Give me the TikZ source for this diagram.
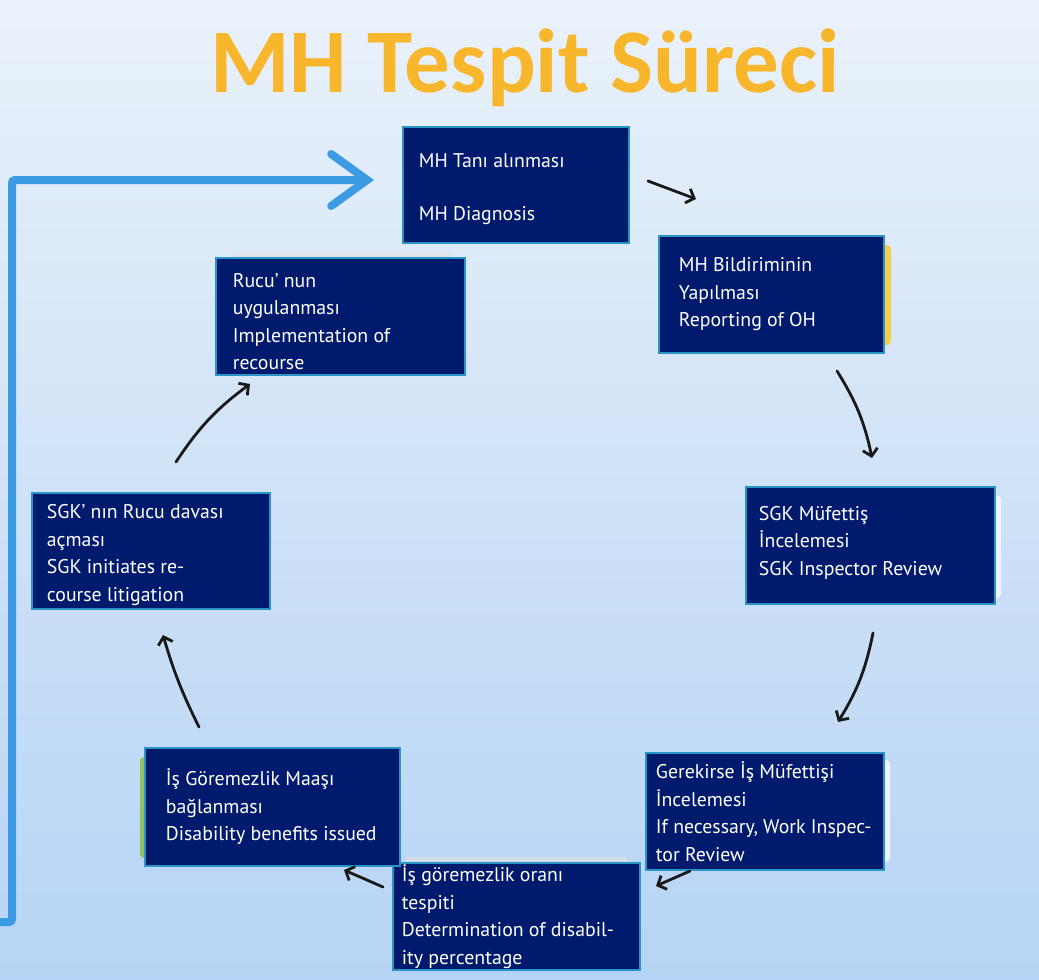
\documentclass[tikz,border=0pt]{standalone}
\usepackage{fontspec}
\setmainfont{PT Sans}
\newfontfamily\titlefont{Carlito}
\usetikzlibrary{arrows.meta,calc}
\definecolor{navy}{HTML}{001A6E}
\definecolor{edge}{HTML}{2A95C4}
\definecolor{bgtop}{HTML}{EAF2FB}
\definecolor{bgmid}{HTML}{CFE2F7}
\definecolor{bgbot}{HTML}{B6D4F5}
\definecolor{loopblue}{HTML}{3D9BE3}
\definecolor{titleor}{HTML}{F8B62C}
\definecolor{glowyel}{HTML}{F3CF4C}
\definecolor{glowgrn}{HTML}{8DC363}
\definecolor{glowpale}{HTML}{EEF4FA}
\begin{document}
\begin{tikzpicture}[x=1pt,y=-1pt,
  stepbox/.style={draw=edge,line width=2.6pt,fill=navy,inner sep=0pt},
  boxtext/.style={anchor=west,align=left,text=white,inner sep=0pt,
    font=\fontsize{19.8}{27.5}\selectfont},
  arr/.style={line width=2.8pt,draw=black!90,line cap=round,
    -{Straight Barb[length=7pt,width=15pt]}},
  loop/.style={line width=8pt,draw=loopblue,rounded corners=3pt,line cap=round,
    -{Straight Barb[length=36pt,width=52pt,line cap=round]}}]
% background
\shade[top color=bgtop,bottom color=bgbot,middle color=bgmid] (0,0) rectangle (1039,980);
\useasboundingbox (0,0) rectangle (1039,980);
% title
\node (title) at (525,68) {\titlefont\bfseries\fontsize{91}{93}\selectfont
  \color{titleor}MH Tespit Süreci};
% glows
\fill[glowyel,rounded corners=4pt] (878,245) rectangle (891,345);
\fill[glowpale,rounded corners=4pt] (988,495) rectangle (1001,598);
\fill[glowpale,rounded corners=4pt] (878,760) rectangle (890,862);
\fill[glowgrn,rounded corners=4pt] (140,757) rectangle (152,858);
\fill[black!12,opacity=0.6,rounded corners=4pt] (232,252) rectangle (452,264);
\fill[black!10,opacity=0.6,rounded corners=4pt] (405,857) rectangle (628,868);
% boxes
\node[stepbox,minimum width=226,minimum height=116] (b1) at (516,185) {};
\node[stepbox,minimum width=225,minimum height=117] (b2) at (771.5,294.5) {};
\node[stepbox,minimum width=249,minimum height=117] (b3) at (870.5,545.5) {};
\node[stepbox,minimum width=238,minimum height=117] (b4) at (765,811.5) {};
\node[stepbox,minimum width=247,minimum height=107] (b5) at (516.5,916.5) {};
\node[stepbox,minimum width=255,minimum height=118] (b6) at (272.5,807) {};
\node[stepbox,minimum width=238,minimum height=116] (b7) at (151,551) {};
\node[stepbox,minimum width=249,minimum height=117] (b8) at (340.5,316.5) {};
% texts
\node[boxtext] (t1) at ([xshift=17pt,yshift=-4pt]b1.west) {MH Tanı alınması\\[25.5pt]MH Diagnosis};
\node[boxtext] (t2) at ([xshift=21pt]b2.west) {MH Bildiriminin\\Yapılması\\Reporting of OH};
\node[boxtext] (t3) at ([xshift=14pt,yshift=3pt]b3.west) {SGK Müfettiş\\İncelemesi\\SGK Inspector Review};
\node[boxtext] (t4) at ([xshift=11pt]b4.west) {Gerekirse İş Müfettişi\\İncelemesi\\If necessary, Work Inspec-\\tor Review};
\node[boxtext] (t5) at ([xshift=10pt]b5.west) {İş göremezlik oranı\\tespiti\\Determination of disabil-\\ity percentage};
\node[boxtext] (t6) at ([xshift=22pt]b6.west) {İş Göremezlik Maaşı\\bağlanması\\Disability benefits issued};
\node[boxtext] (t7) at ([xshift=16pt,yshift=-4pt]b7.west) {SGK’ nın Rucu davası\\açması\\SGK initiates re-\\course litigation};
\node[boxtext] (t8) at ([xshift=18pt,yshift=-5pt]b8.west) {Rucu’ nun\\uygulanması\\Implementation of\\recourse};
% arrow end points
\coordinate (a1s) at (648,181); \coordinate (a1e) at (696,199);
\coordinate (a2s) at (837,371); \coordinate (a2e) at (872,458);
\coordinate (a3s) at (873,633); \coordinate (a3e) at (838,722);
\coordinate (a4s) at (690,871); \coordinate (a4e) at (656,886);
\coordinate (a5s) at (383,887); \coordinate (a5e) at (344,870);
\coordinate (a6s) at (199,727); \coordinate (a6e) at (163,635);
\coordinate (a7s) at (176,462); \coordinate (a7e) at (250,384);
\draw[arr] (a1s) -- (a1e);
\draw[arr] (a2s) to[bend left=10] (a2e);
\draw[arr] (a3s) to[bend left=10] (a3e);
\draw[arr] (a4s) -- (a4e);
\draw[arr] (a5s) -- (a5e);
\draw[arr] (a6s) to[bend left=5] (a6e);
\draw[arr] (a7s) to[bend left=10] (a7e);
% blue loop-back connector
\coordinate (loopstart) at (-5,922);
\coordinate (loopend) at (374,180);
\draw[loop] (loopstart) -- (12,922) -- (12,180) -- (loopend);
\end{tikzpicture}
\end{document}
